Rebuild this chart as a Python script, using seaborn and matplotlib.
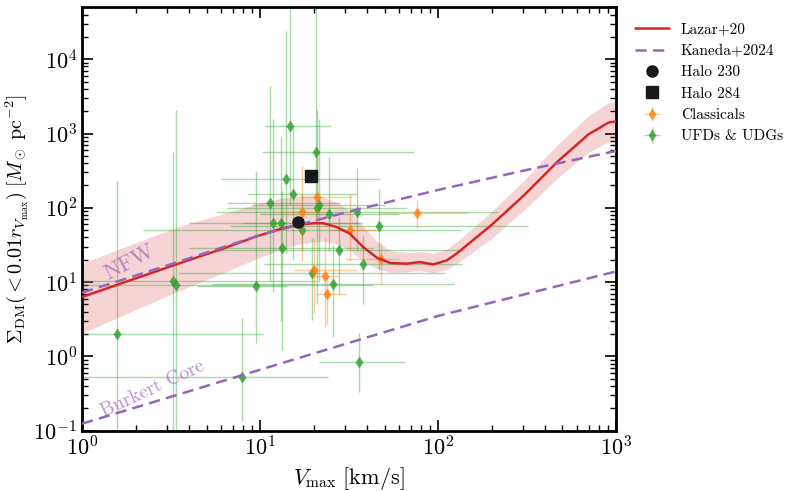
import numpy as np
import pandas as pd
import seaborn as sns
import matplotlib.pyplot as plt
import matplotlib.colors as mcolors
from matplotlib.lines import Line2D

# Lazar+20 median and band
lazar_v = [1, 2, 3.55, 6, 9.5, 13, 16.4, 20, 22.6, 27, 32, 38, 45.3, 54, 67, 79, 94, 112,
           128, 160, 200, 250, 307, 390, 473, 580, 700, 800, 908, 1000]
lazar_sigma = [6.3, 11.2, 18, 27.5, 41, 52, 59, 62, 62, 55, 44.7, 29.5, 21.3, 18, 17.7, 18.6,
               17.3, 19.6, 24.5, 38, 59, 96, 151, 268, 427, 655, 977, 1175, 1410, 1455]
lazar_hi = [17.8, 33.8, 56.9, 81, 113, 134, 145, 145, 139, 118, 91, 56, 35.4, 26.6, 25, 25.7,
            24.4, 27.7, 35.4, 56, 89, 149, 239, 445, 726, 1140, 1740, 2140, 2620, 2710]
lazar_lo = [2.04, 4.26, 7.7, 12.9, 20.5, 27.3, 32.4, 34.8, 35.6, 32.4, 26.9, 19.0, 15.1, 13.6,
            13.7, 14.4, 13.4, 14.8, 17.8, 26.3, 39, 62, 95, 165, 257, 385, 562, 660, 792, 817]

# Kaneda+2024 curves
nfw_v = [1, 3.16, 10, 31.6, 100, 316, 1000]
nfw_sigma = [7.2, 17.4, 43, 89, 174, 324, 583]
burkert_v = [1, 10, 100, 1000]
burkert_sigma = [0.124, 0.66, 3.5, 13.9]

# simulated halos
halo230 = (16.4, 64)
halo284 = (19.3, 272)

# classical dwarfs: v, sigma, v_lo, v_hi, sigma_lo, sigma_hi
cl_v = [17.2, 20.8, 20.2, 23.3, 23.9, 32, 47.6, 76.5]
cl_s = [88, 139, 14.4, 12, 7.0, 49.5, 20.7, 84.6]
cl_vlo = [13, 16.8, 15.5, 19.1, 21, 25, 30, 46.4]
cl_vhi = [23, 32.8, 34.5, 27.4, 30.4, 45, 60, 146]
cl_slo = [19.5, 75, 3.8, 2.5, 2.75, 19.5, 9.1, 53.5]
cl_shi = [370, 537, 39.7, 41, 12.3, 154, 33.5, 128]

# UFDs & UDGs
uf_v = [1.57, 3.23, 3.39, 7.9, 9.5, 11.4, 11.8, 13.1, 13.2, 14.0, 14.7, 15.3, 17.1, 19.6,
        20.5, 20.8, 21.5, 24.4, 25.7, 27.9, 35.2, 36, 38.0, 46.6]
uf_s = [2.0, 10.2, 9.2, 0.53, 8.75, 115, 63, 63, 28.4, 245, 1276, 154, 50.6, 13.3,
        571, 100, 110, 83, 9.3, 26.7, 87, 0.83, 17.7, 57.3]
uf_vlo = [0.24, 0.5, 0.27, 0.8, 4.4, 6.5, 4, 8, 4, 6, 10.7, 8.6, 2.2, 3.5,
          10.3, 6.5, 9, 10, 5.4, 5.6, 5.7, 21.5, 10.5, 6.8]
uf_vhi = [10.4, 21, 43, 24, 14.1, 28, 35, 38, 43, 47, 25, 35, 134, 110,
          73, 67, 50, 60, 123, 140, 216, 65, 137, 320]
uf_slo = [0.03, 0.03, 0.03, 0.134, 1.5, 10.5, 7.4, 3, 1.2, 25, 110, 20, 26.5, 3.1,
          60, 5, 10, 26, 1.8, 6.9, 26, 0.33, 5.1, 14.4]
uf_shi = [233, 558, 2090, 3.24, 317, 4400, 1580, 930, 170, 24000, 80000, 1200, 160, 39.7,
          80000, 2090, 1580, 480, 32, 75, 348, 2.05, 42, 180]

sns.set_theme(style="ticks")
plt.rcParams.update({
    "font.family": "serif",
    "font.serif": ["cmr10", "DejaVu Serif"],
    "mathtext.fontset": "cm",
    "axes.formatter.use_mathtext": True,
    "axes.unicode_minus": False,
    "axes.edgecolor": "black",
    "axes.labelcolor": "black",
    "text.color": "black",
    "xtick.color": "black",
    "ytick.color": "black",
})

red = "#d62728"
purple = "#9467bd"
orange = "#ff7f0e"
green = "#2ca02c"
dash = (0, (4.5, 2.5))

fig = plt.figure(figsize=(7.97, 4.91), dpi=100)
ax = fig.add_axes([0.103, 0.123, 0.67, 0.862])

ax.fill_between(lazar_v, lazar_lo, lazar_hi, color=red, alpha=0.2, lw=0, zorder=1)
lazar_df = pd.DataFrame({"v": lazar_v, "s": lazar_sigma})
sns.lineplot(data=lazar_df, x="v", y="s", ax=ax, color=red, lw=1.8, zorder=4)

nfw_df = pd.DataFrame({"v": nfw_v, "s": nfw_sigma})
bur_df = pd.DataFrame({"v": burkert_v, "s": burkert_sigma})
sns.lineplot(data=nfw_df, x="v", y="s", ax=ax, color=purple, lw=1.8, ls=dash, zorder=5)
sns.lineplot(data=bur_df, x="v", y="s", ax=ax, color=purple, lw=1.8, ls=dash, zorder=5)

def draw_errs(v, s, vlo, vhi, slo, shi, col, z):
    v = np.array(v); s = np.array(s)
    xerr = [v - np.array(vlo), np.array(vhi) - v]
    yerr = [s - np.array(slo), np.array(shi) - s]
    return ax.errorbar(v, s, xerr=xerr, yerr=yerr, fmt="d", ms=6,
                       color=mcolors.to_rgba(col, 0.8), mec="none",
                       ecolor=mcolors.to_rgba(col, 0.4), elinewidth=1.0, capsize=0, zorder=z)

eh_uf = draw_errs(uf_v, uf_s, uf_vlo, uf_vhi, uf_slo, uf_shi, green, 2)
eh_cl = draw_errs(cl_v, cl_s, cl_vlo, cl_vhi, cl_slo, cl_shi, orange, 3)

ax.plot(*halo230, "o", color="k", ms=8, zorder=6)
ax.plot(*halo284, "s", color="k", ms=8, zorder=6)

ax.text(1.84, 18.6, "NFW", rotation=28, color=purple, alpha=0.7, fontsize=16,
        ha="center", va="center")
ax.text(2.49, 0.37, "Burkert Core", rotation=25, color=purple, alpha=0.7, fontsize=14,
        ha="center", va="center")

ax.set_xscale("log")
ax.set_yscale("log")
ax.set_xlim(1, 1000)
ax.set_ylim(0.1, 5e4)
ax.set_xlabel(r"$V_{\rm max}\ [{\rm km/s}]$", fontsize=16)
ax.set_ylabel(r"$\Sigma_{\rm DM}(<0.01r_{V_{\rm max}})\;[M_\odot\;{\rm pc}^{-2}]$", fontsize=14.5,
              labelpad=2)
ax.tick_params(which="both", direction="in", top=True, right=True, labelsize=16)
ax.tick_params(which="major", length=8, width=1.2)
ax.tick_params(which="minor", length=4, width=1.0)
for sp in ax.spines.values():
    sp.set_linewidth(2)

handles = [
    Line2D([], [], color=red, lw=1.8),
    Line2D([], [], color=purple, lw=1.8, ls=dash),
    Line2D([], [], color="k", marker="o", ls="none", ms=8),
    Line2D([], [], color="k", marker="s", ls="none", ms=8),
    eh_cl,
    eh_uf,
]
labels = ["Lazar+20", "Kaneda+2024", "Halo 230", "Halo 284", "Classicals", "UFDs & UDGs"]
ax.legend(handles, labels, loc="upper left", bbox_to_anchor=(1.01, 0.996), frameon=False,
          fontsize=11, handlelength=2.2, labelspacing=0.5)

fig.savefig("out.png", dpi=100)
